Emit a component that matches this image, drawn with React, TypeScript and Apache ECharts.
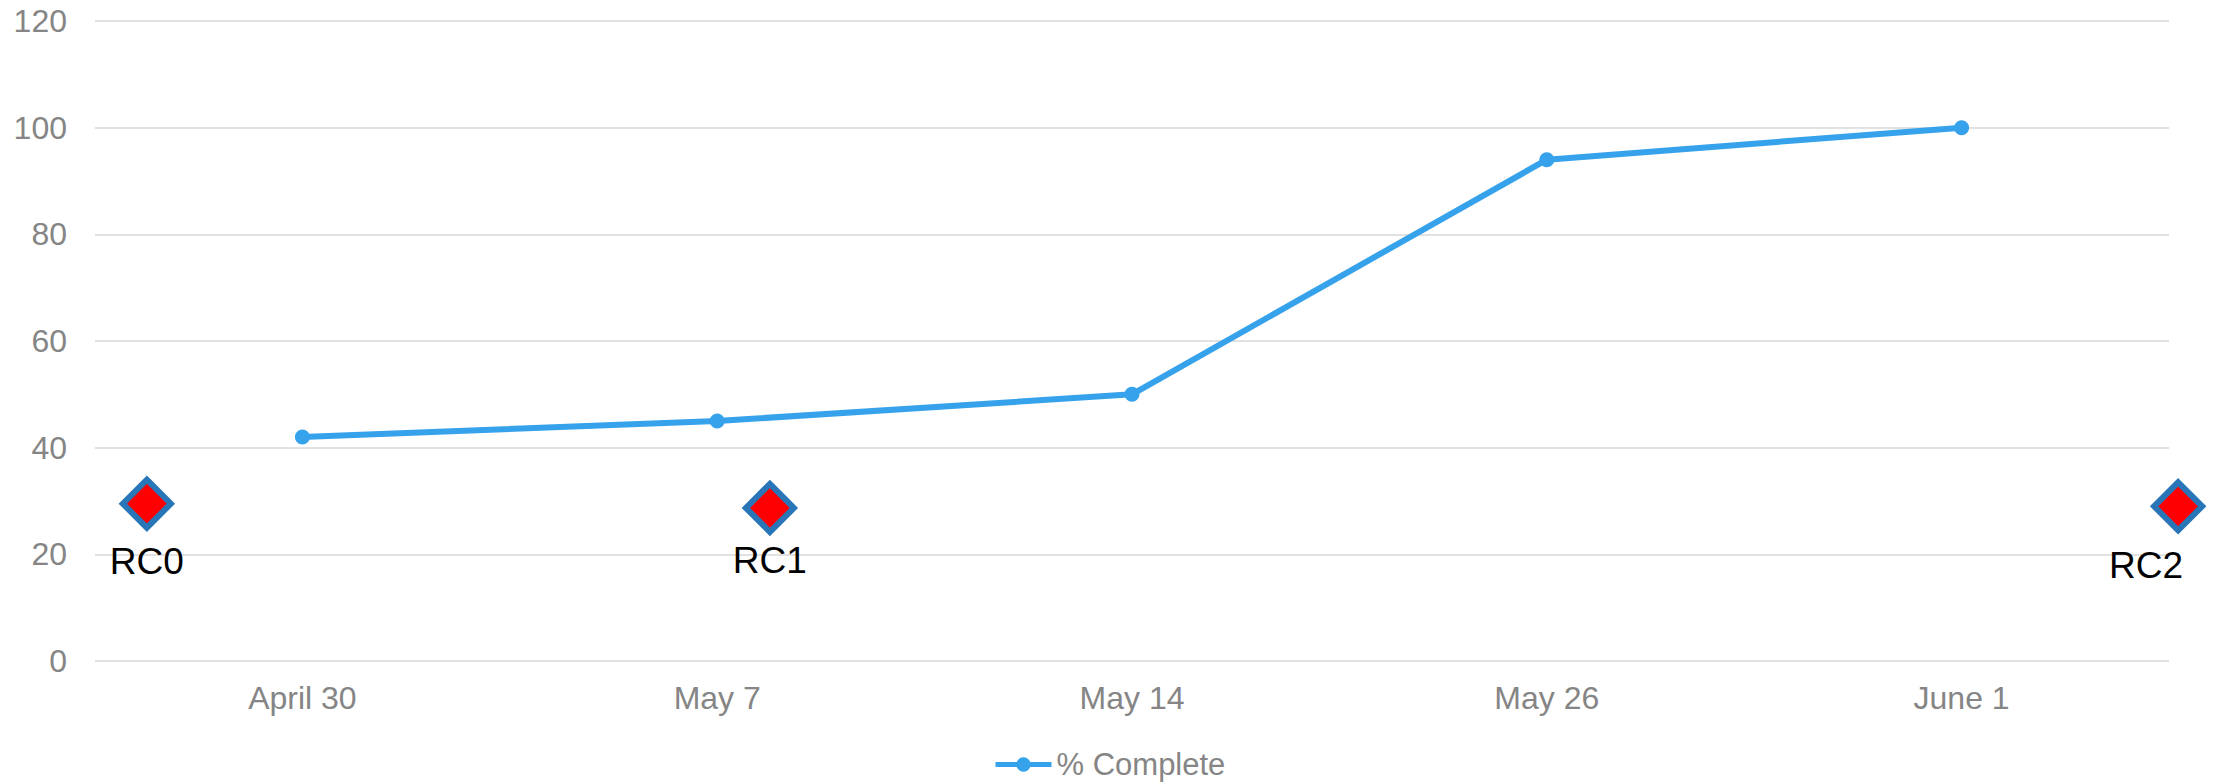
import React, { useEffect, useRef } from "react";
import * as echarts from "echarts";

const categories = ["April 30", "May 7", "May 14", "May 26", "June 1"];
const completeValues = [42, 45, 50, 94, 100];
const milestoneNames = ["RC0", "RC1", "RC2"];
const milestoneX = [0.125, 1.627, 5.022];
const milestoneY = [29.5, 28.7, 29];
const yTicks = { min: 0, max: 120, interval: 20 };

export default function App() {
  const ref = useRef<HTMLDivElement>(null);
  useEffect(() => {
    document.body.style.margin = "0";
    const chart = echarts.init(ref.current!, null, { renderer: "svg" });
    const labelColor = "#858585";
    const font = "Liberation Sans, Arial, sans-serif";
    const labelOffsets = [
      [0, 6],
      [0, 1],
      [-32, 8],
    ];
    chart.setOption({
      animation: false,
      backgroundColor: "#ffffff",
      grid: { left: 95, right: 50, top: 21, bottom: 123 },
      legend: {
        bottom: -1,
        left: 988,
        itemWidth: 56,
        itemHeight: 18,
        itemGap: 6,
        data: ["% Complete"],
        lineStyle: { width: 5 },
        textStyle: { color: labelColor, fontSize: 31, fontFamily: font },
      },
      xAxis: [
        {
          type: "category",
          data: categories,
          boundaryGap: true,
          axisLine: { show: false },
          axisTick: { show: false },
          axisLabel: { color: labelColor, fontSize: 32, margin: 21, fontFamily: font },
        },
        {
          type: "value",
          min: 0,
          max: 5,
          show: false,
        },
      ],
      yAxis: {
        type: "value",
        min: yTicks.min,
        max: yTicks.max,
        interval: yTicks.interval,
        axisLine: { show: false },
        axisTick: { show: false },
        axisLabel: { color: labelColor, fontSize: 32, margin: 28, fontFamily: font },
        splitLine: { lineStyle: { color: "#e2e2e2", width: 2 } },
      },
      series: [
        {
          name: "% Complete",
          type: "line",
          data: completeValues,
          xAxisIndex: 0,
          symbol: "circle",
          symbolSize: 15,
          showSymbol: true,
          lineStyle: { color: "#36A2EB", width: 6 },
          itemStyle: { color: "#36A2EB" },
        },
        {
          name: "Milestones",
          type: "scatter",
          xAxisIndex: 1,
          clip: false,
          symbol: "diamond",
          symbolSize: 48,
          itemStyle: { color: "#ff0000", borderColor: "#2876b8", borderWidth: 6, opacity: 1 },
          label: {
            show: true,
            position: "bottom",
            distance: 6,
            color: "#000000",
            fontSize: 37,
            fontFamily: font,
            formatter: (p: any) => p.data.name,
          },
          data: milestoneNames.map((n, i) => ({
            name: n,
            value: [milestoneX[i], milestoneY[i]],
            label: { offset: labelOffsets[i] },
          })),
        },
      ],
    });
    return () => chart.dispose();
  }, []);
  return <div ref={ref} style={{ width: 2219, height: 784 }} />;
}
